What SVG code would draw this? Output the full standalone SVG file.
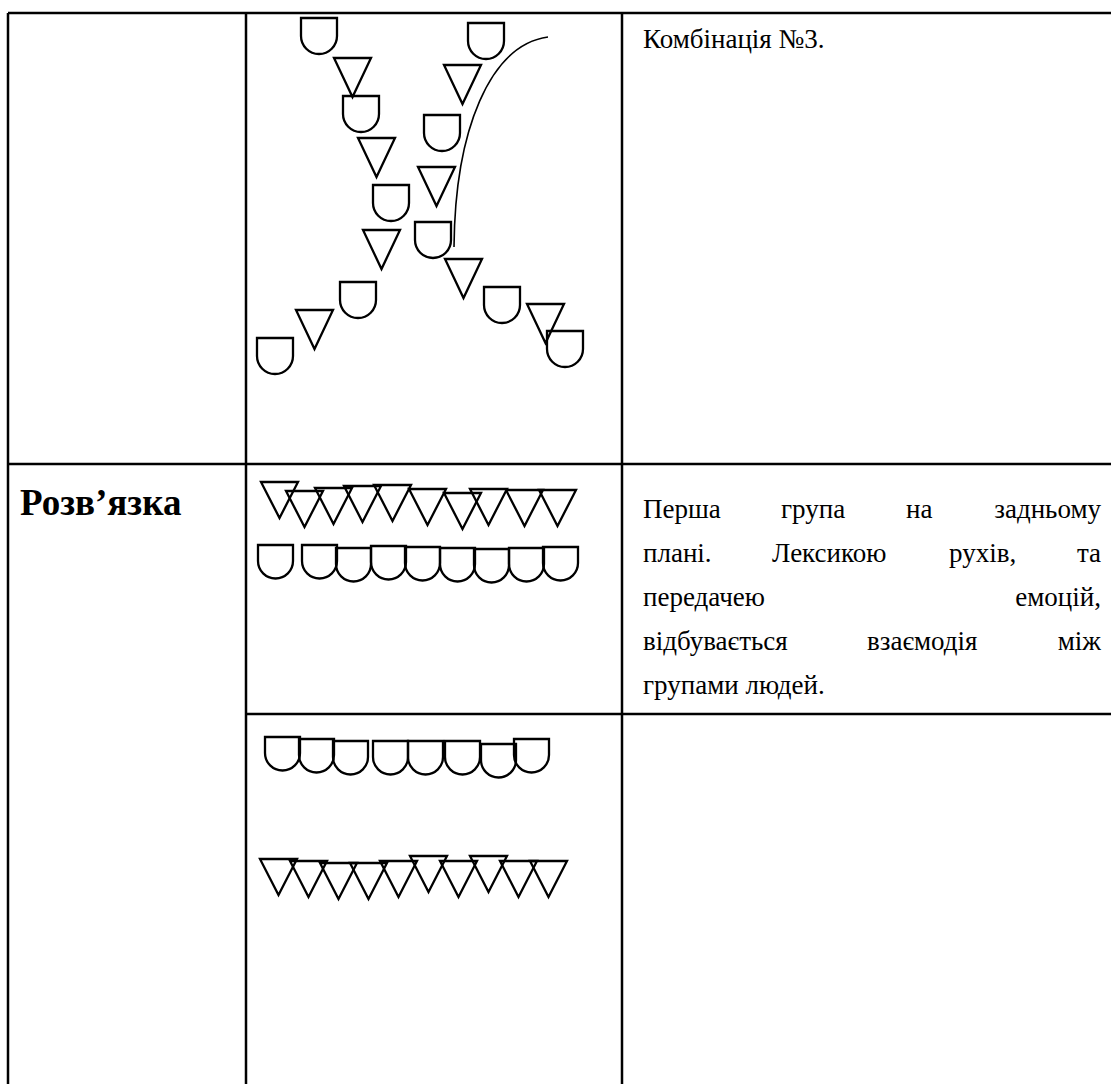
<svg xmlns="http://www.w3.org/2000/svg" xmlns:xlink="http://www.w3.org/1999/xlink" width="1111" height="1084" viewBox="0 0 1111 1084">
<style>
.grid{stroke:#000;stroke-width:2.5;fill:none}
.sh{stroke:#000;stroke-width:2.3;fill:none;stroke-linejoin:miter}
.curve{stroke:#000;stroke-width:1.6;fill:none}
.t{font-family:"Liberation Serif","Times New Roman",serif;font-size:27px;fill:#000}
.b{font-weight:bold;font-size:37px}
</style>
<defs>
<path id="cup" class="sh" d="M0,0 V18 A18,18 0 0 0 36,18 V0 Z"/>
<path id="tri" class="sh" d="M0,0 H37 L18.5,39 Z"/>
<path id="cupS" class="sh" d="M0,0 V16 A17.5,17.5 0 0 0 35,16 V0 Z"/>
<path id="triS" class="sh" d="M0,0 H37 L18.5,36 Z"/>
</defs>
<rect width="1111" height="1084" fill="#fff"/>
<g id="table">
<path class="grid" d="M8,13 H1111 M8,13 V1084 M246,13 V1084 M622,13 V1084 M8,464 H1111 M246,714 H1111"/>
</g>
<g id="connectors">
<path class="curve" d="M548,37 C490,45 455,130 454,247"/>
</g>
<g id="combo3">
<use href="#cup" x="301" y="18"/>
<use href="#tri" x="334" y="58"/>
<use href="#cup" x="343" y="96"/>
<use href="#tri" x="358" y="138"/>
<use href="#cup" x="373" y="185"/>
<use href="#tri" x="363" y="230"/>
<use href="#cup" x="340" y="282"/>
<use href="#tri" x="296" y="310"/>
<use href="#cup" x="257" y="338"/>
<use href="#cup" x="468" y="23"/>
<use href="#tri" x="444" y="65"/>
<use href="#cup" x="424" y="115"/>
<use href="#tri" x="418" y="167"/>
<use href="#cup" x="415" y="222"/>
<use href="#tri" x="445" y="259"/>
<use href="#cup" x="484" y="287"/>
<use href="#tri" x="527" y="304"/>
<use href="#cup" x="547" y="331"/>
</g>
<g id="row2-top">
<use href="#triS" x="261" y="482"/>
<use href="#triS" x="286" y="491"/>
<use href="#triS" x="315" y="488"/>
<use href="#triS" x="344" y="486"/>
<use href="#triS" x="374" y="485"/>
<use href="#triS" x="409" y="489"/>
<use href="#triS" x="444" y="493"/>
<use href="#triS" x="470" y="489"/>
<use href="#triS" x="506" y="490"/>
<use href="#triS" x="539" y="490"/>
<use href="#cupS" x="258" y="545"/>
<use href="#cupS" x="302" y="545"/>
<use href="#cupS" x="336" y="548"/>
<use href="#cupS" x="371" y="546"/>
<use href="#cupS" x="405" y="547"/>
<use href="#cupS" x="440" y="548"/>
<use href="#cupS" x="474" y="549"/>
<use href="#cupS" x="509" y="548"/>
<use href="#cupS" x="543" y="547"/>
</g>
<g id="row2-bottom">
<use href="#cupS" x="265" y="737"/>
<use href="#cupS" x="299" y="739"/>
<use href="#cupS" x="333" y="741"/>
<use href="#cupS" x="373" y="741"/>
<use href="#cupS" x="408" y="741"/>
<use href="#cupS" x="445" y="741"/>
<use href="#cupS" x="481" y="744"/>
<use href="#cupS" x="514" y="739"/>
<use href="#triS" x="260" y="859"/>
<use href="#triS" x="290" y="861"/>
<use href="#triS" x="320" y="863"/>
<use href="#triS" x="350" y="863"/>
<use href="#triS" x="380" y="861"/>
<use href="#triS" x="410" y="856"/>
<use href="#triS" x="440" y="861"/>
<use href="#triS" x="470" y="856"/>
<use href="#triS" x="500" y="861"/>
<use href="#triS" x="530" y="861"/>
</g>
<g id="texts">
<text class="t" x="643" y="48">Комбінація №3.</text>
<text class="t b" x="20" y="515">Розв’язка</text>
<text class="t" x="643" y="518">Перша</text>
<text class="t" x="781" y="518">група</text>
<text class="t" x="906" y="518">на</text>
<text class="t" x="1101" y="518" text-anchor="end">задньому</text>
<text class="t" x="643" y="562">плані.</text>
<text class="t" x="772" y="562">Лексикою</text>
<text class="t" x="949" y="562">рухів,</text>
<text class="t" x="1101" y="562" text-anchor="end">та</text>
<text class="t" x="643" y="606">передачею</text>
<text class="t" x="1101" y="606" text-anchor="end">емоцій,</text>
<text class="t" x="643" y="650">відбувається</text>
<text class="t" x="867" y="650">взаємодія</text>
<text class="t" x="1101" y="650" text-anchor="end">між</text>
<text class="t" x="643" y="694">групами людей.</text>
</g>
</svg>
